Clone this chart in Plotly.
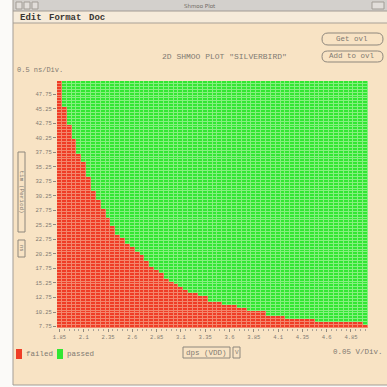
import plotly.graph_objects as go

# Shmoo grid: supply voltage (0.05 V steps) vs. period (0.5 ns steps)
v_start, v_step, v_count = 1.85, 0.05, 64
t_start, t_step, t_count = 7.75, 0.5, 85
voltages = [round(v_start + v_step * i, 2) for i in range(v_count)]
periods = [round(t_start + t_step * k, 2) for k in range(t_count)]

# Highest failing period (ns) for each voltage column
fail_limit_ns = [49.75, 45.25, 42.25, 39.75, 37.25, 35.75, 33.25, 30.75, 29.25, 27.75,
                 26.25, 24.75, 23.25, 22.75, 21.75, 21.25, 20.25, 19.75, 18.75, 17.75,
                 17.25, 16.75, 15.75, 15.25, 14.75, 14.25, 13.75, 13.25, 13.25, 12.75,
                 12.75, 11.75, 11.75, 11.75, 11.25, 11.25, 11.25, 10.75, 10.75, 10.25,
                 10.25, 10.25, 10.25, 9.25, 9.25, 9.25, 9.25, 8.75, 8.75, 8.75,
                 8.75, 8.75, 8.75, 8.25, 8.25, 8.25, 8.25, 8.25, 8.25, 8.25,
                 8.25, 8.25, 8.25, 7.75]

x_ticks = [1.85, 2.1, 2.35, 2.6, 2.85, 3.1, 3.35, 3.6, 3.85, 4.1, 4.35, 4.6, 4.85]
y_ticks = [7.75, 10.25, 12.75, 15.25, 17.75, 20.25, 22.75, 25.25, 27.75, 30.25,
           32.75, 35.25, 37.75, 40.25, 42.75, 45.25, 47.75]

# 0 = failed, 1 = passed
z = [[0 if t <= lim else 1 for lim in fail_limit_ns] for t in periods]

W = H = 387
L, R, T, B = 57, 19, 81, 59
PW, PH = W - L - R, H - T - B

def px(x):
    return (x - L) / PW

def py(y):
    return (H - B - y) / PH

BG = "#F8E3C4"
RED, GREEN = "#EF3D26", "#33E633"
RED_GRID, GREEN_GRID = "#F4866C", "#86F07E"
TXT = "#7f7a72"
MONO = "Liberation Mono, DejaVu Sans Mono, monospace"

fig = go.Figure()
# lighter layer shows through the cell gaps as grid lines
fig.add_trace(go.Heatmap(
    x=voltages, y=periods, z=z, zmin=0, zmax=1, showscale=False, hoverinfo="skip",
    colorscale=[[0, RED_GRID], [0.5, RED_GRID], [0.5, GREEN_GRID], [1, GREEN_GRID]]))
fig.add_trace(go.Heatmap(
    x=voltages, y=periods, z=z, zmin=0, zmax=1, showscale=False, xgap=1, ygap=1,
    colorscale=[[0, RED], [0.5, RED], [0.5, GREEN], [1, GREEN]]))

shapes = []

def rect(x0, y0, x1, y1, fill=None, line=None, lw=1, layer="below"):
    shapes.append(dict(type="rect", xref="paper", yref="paper",
                       x0=px(x0), x1=px(x1), y0=py(y1), y1=py(y0),
                       fillcolor=fill or "rgba(0,0,0,0)",
                       line=dict(color=line or "rgba(0,0,0,0)", width=lw if line else 0),
                       layer=layer))

def hline(x0, x1, y, color, lw=1):
    shapes.append(dict(type="line", xref="paper", yref="paper", x0=px(x0), x1=px(x1),
                       y0=py(y), y1=py(y), line=dict(color=color, width=lw)))

def vline(x, y0, y1, color, lw=1):
    shapes.append(dict(type="line", xref="paper", yref="paper", x0=px(x), x1=px(x),
                       y0=py(y0), y1=py(y1), line=dict(color=color, width=lw)))

def pill(x0, y0, x1, y1, color):
    r = (y1 - y0) / 2
    p = [
        f"M {px(x0 + r)},{py(y0)}",
        f"L {px(x1 - r)},{py(y0)}",
        f"Q {px(x1)},{py(y0)} {px(x1)},{py(y0 + r)}",
        f"Q {px(x1)},{py(y1)} {px(x1 - r)},{py(y1)}",
        f"L {px(x0 + r)},{py(y1)}",
        f"Q {px(x0)},{py(y1)} {px(x0)},{py(y0 + r)}",
        f"Q {px(x0)},{py(y0)} {px(x0 + r)},{py(y0)} Z",
    ]
    shapes.append(dict(type="path", xref="paper", yref="paper", path=" ".join(p),
                       line=dict(color=color, width=1), fillcolor="rgba(0,0,0,0)"))

# window frame
rect(0, 0, 13, 387, fill="#FBFAF8")
rect(13, 385, 387, 387, fill="#FBFAF8")
rect(13, 0, 387, 11, fill="#D3D0CC")
hline(13, 387, 11, "#a19b94")
rect(13, 11, 387, 23, fill="#F6EBDA")
hline(13, 387, 23, "#a8a096")
vline(13, 0, 385, "#a39d95")
hline(13, 387, 385, "#a39d95")
# title-bar buttons
for bx in (16, 24, 32):
    rect(bx, 2, bx + 6, 9, fill="#e2deda", line="#a29d96")
rect(372, 2, 384, 9, fill="#e2deda", line="#a29d96")

# overlay buttons
pill(322, 33, 383, 45, "#8e877d")
pill(322, 51, 383, 62, "#8e877d")

# axis selector boxes
rect(183, 347, 230, 358, line="#8e877d", layer="above")
rect(233, 347, 240, 358, line="#8e877d", layer="above")
rect(18, 152, 25, 232, line="#8e877d", layer="above")
rect(18, 240, 25, 257, line="#8e877d", layer="above")

# legend swatches
rect(16, 349, 22, 359, fill=RED, layer="above")
rect(57, 349, 63, 359, fill=GREEN, layer="above")

annotations = []

def text(x, y, s, size, color=TXT, xanchor="left", angle=0, family=MONO, bold=False):
    annotations.append(dict(x=px(x), y=py(y), xref="paper", yref="paper", text=f"<b>{s}</b>" if bold else s,
                            showarrow=False, xanchor=xanchor, yanchor="middle", textangle=angle,
                            font=dict(family=family, size=size, color=color)))

text(200, 5.5, "Shmoo Plot", 5.5, color="#6f6a64", xanchor="center", family="DejaVu Sans, sans-serif")
text(18, 17.5, "Edit", 9, color="#3a3632", bold=True)
text(47, 17.5, "Format", 9, color="#3a3632", bold=True)
text(87, 17.5, "Doc", 9, color="#3a3632", bold=True)
text(352, 39, "Get ovl", 7.5, xanchor="center")
text(352, 56.5, "Add to ovl", 7.5, xanchor="center")
text(224, 57, "2D SHMOO PLOT \"SILVERBIRD\"", 8, xanchor="center")
text(15, 70, "0.5 ns/Div.", 7)
text(24, 354, "failed", 7.5)
text(65, 354, "passed", 7.5)
text(206.5, 352.5, "dps (VDD)", 7.5, xanchor="center")
text(236.5, 352.5, "V", 6, xanchor="center")
text(385, 352, "0.05 V/Div.", 7.5, xanchor="right")
text(21.5, 192, "tim (Period)", 6, xanchor="center", angle=90)
text(21.5, 248.5, "ns", 5.5, xanchor="center", angle=90)

fig.update_layout(
    width=W, height=H, margin=dict(l=L, r=R, t=T, b=B, pad=0),
    paper_bgcolor=BG, plot_bgcolor=BG, showlegend=False,
    shapes=shapes, annotations=annotations,
    xaxis=dict(range=[v_start - v_step / 2, voltages[-1] + v_step / 2],
               tickvals=x_ticks, ticktext=[f"{v:g}" for v in x_ticks],
               ticks="outside", ticklen=3, tickcolor="#8e877d", tickwidth=1,
               minor=dict(dtick=v_step, tick0=v_start, ticks="outside", ticklen=2, tickcolor="#a8a096"),
               tickfont=dict(family=MONO, size=5.5, color=TXT),
               showgrid=False, zeroline=False, showline=False, fixedrange=True),
    yaxis=dict(range=[t_start - t_step / 2, periods[-1] + t_step / 2],
               tickvals=y_ticks, ticktext=[f"{t:.2f}" for t in y_ticks],
               ticks="outside", ticklen=3, tickcolor="#8e877d", tickwidth=1,
               tickfont=dict(family=MONO, size=5.5, color=TXT),
               showgrid=False, zeroline=False, showline=False, fixedrange=True),
)

fig.write_html("out.html")
